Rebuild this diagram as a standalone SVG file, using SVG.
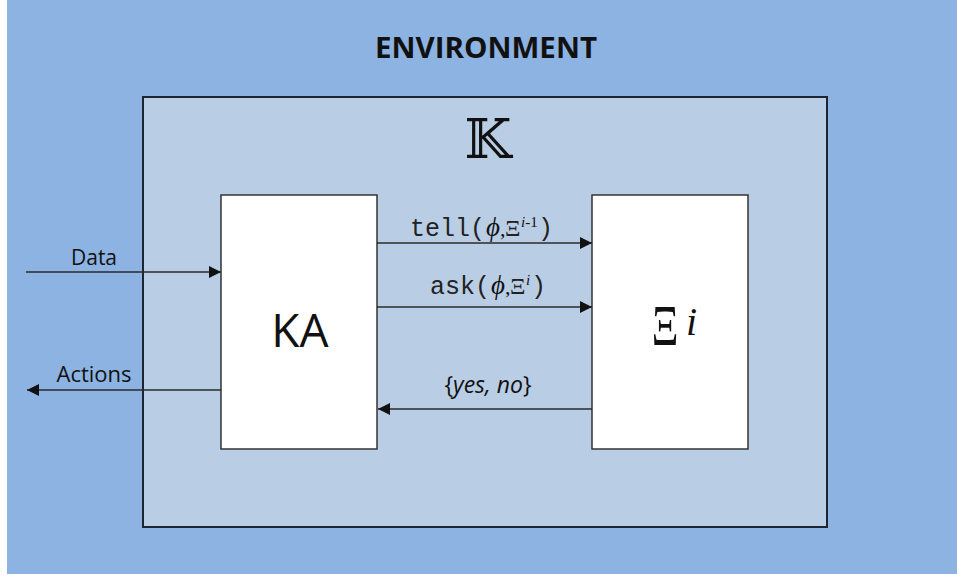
<svg xmlns="http://www.w3.org/2000/svg" width="957" height="577" viewBox="0 0 957 577">
  <defs>
    <marker id="arrow" viewBox="0 0 10 10" refX="10" refY="5" markerWidth="12" markerHeight="12" markerUnits="userSpaceOnUse" orient="auto">
      <path d="M0,0 L10,5 L0,10 z" fill="#111"/>
    </marker>
    <style>
      .box { fill: #ffffff; stroke: #333; stroke-width: 1.5; }
      .conn { stroke: #2a2a2a; stroke-width: 1.6; fill: none; marker-end: url(#arrow); }
      .sans { font-family: "Open Sans", "Liberation Sans", sans-serif; fill: #111; }
      .mono { font-family: "Liberation Mono", "DejaVu Sans Mono", monospace; fill: #222; font-size: 25px; }
      .serif { font-family: "Liberation Serif", "DejaVu Serif", serif; fill: #111; }
      .phi { font-family: "Liberation Serif", "DejaVu Serif", serif; font-style: italic; font-size: 27px; fill: #111; }
      .xi { font-family: "Liberation Serif", "DejaVu Serif", serif; font-size: 24px; fill: #222; }
      .sup { font-family: "Liberation Serif", "DejaVu Serif", serif; font-size: 15px; fill: #111; }
    </style>
  </defs>

  <!-- environment backdrop -->
  <rect id="environment" x="7" y="0" width="950" height="574" fill="#8DB3E2"/>
  <text class="sans" x="375" y="58" font-size="29" font-weight="bold" textLength="222" lengthAdjust="spacingAndGlyphs">ENVIRONMENT</text>

  <!-- knowledge system K -->
  <g id="system-k">
    <rect x="143" y="97" width="684" height="430" fill="#B9CDE5" stroke="#1e2530" stroke-width="2"/>
    <text x="488" y="158" font-family="DejaVu Serif, DejaVu Sans, serif" font-size="54" text-anchor="middle" fill="#111">𝕂</text>
  </g>

  <!-- knowledge agent -->
  <g id="ka">
    <rect class="box" x="221" y="195" width="156" height="254"/>
    <text class="sans" x="300" y="347" font-size="46" text-anchor="middle">KA</text>
  </g>

  <!-- knowledge base Xi^i -->
  <g id="xi">
    <rect class="box" x="592" y="195" width="156" height="254"/>
    <text class="serif" font-size="56" text-anchor="middle" transform="translate(665,345) scale(0.74,1)">Ξ</text>
    <text class="serif" x="686" y="335" font-size="40" font-style="italic">i</text>
  </g>

  <!-- connectors -->
  <g id="connectors">
    <line class="conn" x1="26" y1="272" x2="221" y2="272"/>
    <line class="conn" x1="221" y1="390" x2="27" y2="390"/>
    <line class="conn" x1="377" y1="243" x2="592" y2="243"/>
    <line class="conn" x1="377" y1="307" x2="592" y2="307"/>
    <line class="conn" x1="592" y1="409" x2="378" y2="409"/>
  </g>

  <!-- connector labels -->
  <g id="labels">
    <text class="sans" x="94" y="265" font-size="21" text-anchor="middle">Data</text>
    <text class="sans" x="94" y="382" font-size="22" text-anchor="middle">Actions</text>

    <!-- tell(phi, Xi^{i-1}) -->
    <text class="mono" x="410" y="236">tell(</text>
    <text class="phi" x="486" y="236">ϕ</text>
    <text class="serif" x="500" y="236" font-size="22">,</text>
    <text class="xi" x="505" y="236">Ξ</text>
    <text class="sup" x="521" y="227"><tspan font-style="italic">i</tspan>-1</text>
    <text class="mono" x="538" y="236">)</text>

    <!-- ask(phi, Xi^i) -->
    <text class="mono" x="430" y="294">ask(</text>
    <text class="phi" x="491" y="294">ϕ</text>
    <text class="serif" x="505" y="294" font-size="22">,</text>
    <text class="xi" x="510" y="294">Ξ</text>
    <text class="sup" x="526" y="285" font-style="italic">i</text>
    <text class="mono" x="531" y="294">)</text>

    <text class="sans" x="488" y="393" font-size="23" text-anchor="middle">{<tspan font-style="italic">yes, no</tspan>}</text>
  </g>
</svg>
